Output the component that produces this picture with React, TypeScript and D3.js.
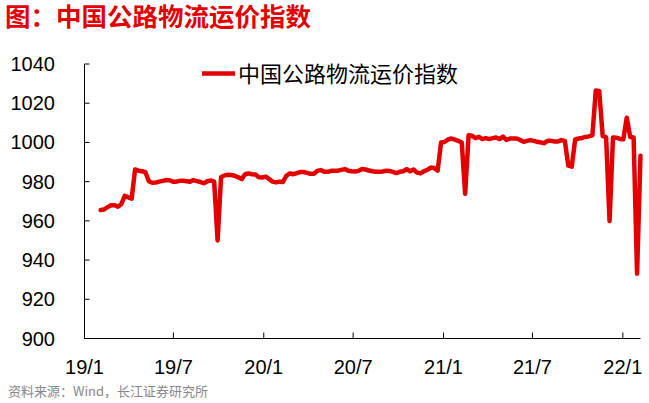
import React from "react";
import * as d3 from "d3";

const W = 649;
const H = 403;

const title = "图：中国公路物流运价指数";
const seriesName = "中国公路物流运价指数";
const source = "资料来源：Wind，长江证券研究所";

const startDate = "2019-02-03"; // first weekly observation
const values: number[] = [
  965.5, 965.8, 967, 968, 968, 967.2, 968.5, 972.8, 972, 971.3,
  986.2, 985.6, 985.3, 984.8, 980.2, 979.4, 979.5, 980, 980.4, 980.8,
  980.7, 980, 980, 980.4, 980.4, 980.2, 980, 980.8, 980.3, 979.8,
  979.2, 980.2, 980.6, 980, 950, 982.2, 983.2, 983.5, 983.4, 983,
  982.2, 981.3, 983.8, 984.2, 983.8, 983.6, 982.2, 982.1, 982.6, 981.3,
  980, 979.6, 980, 979.8, 983, 984.2, 983.8, 984.3, 984.9, 984.9,
  984.5, 984, 984, 985.5, 985.9, 985, 985, 985.5, 985.6, 985.6,
  986, 986.4, 985.6, 985.3, 985.2, 985.5, 986.4, 986.2, 985.7, 985.3,
  985, 985, 985.2, 985.6, 985.4, 985, 984.4, 985, 985.3, 986.4,
  985.3, 986.2, 984.6, 984.2, 985.3, 986, 987.2, 987, 985.6, 1000,
  1000.2, 1001.5, 1002, 1001.4, 1000.8, 1000, 973.8, 1003.7, 1003.4, 1002.2,
  1002.9, 1001.7, 1002.2, 1001.7, 1002.2, 1002.5, 1001.7, 1003, 1001.3, 1002,
  1002, 1002, 1001.2, 1000.3, 1000.8, 1001.2, 1000.8, 1000.3, 1000, 999.6,
  1000.8, 1000.8, 1000.5, 1000.5, 1001.2, 1000.8, 988.2, 987.6, 1001.5, 1002,
  1002.3, 1002.8, 1003.1, 1003.6, 1026.5, 1026.2, 1003.3, 1002.6, 959.8, 1002.5,
  1002.4, 1001.8, 1001.6, 1012.6, 1002.8, 1002.5, 933, 993.2,
];

const yTicks = [900, 920, 940, 960, 980, 1000, 1020, 1040];
const xTickDates = ["2019-01-01", "2019-07-01", "2020-01-01", "2020-07-01", "2021-01-01", "2021-07-01", "2022-01-01"];
const xTickLabels = ["19/1", "19/7", "20/1", "20/7", "21/1", "21/7", "22/1"];

const RED = "#e30000";
const NUM_FONT = "'Liberation Sans', Arial, sans-serif";
const CJK_FONT = "'Noto Sans CJK SC', 'Noto Sans', sans-serif";

export default function App() {
  const left = 84.5;
  const right = 640.5;
  const top = 64;
  const bottom = 338.5;

  const x = d3
    .scaleUtc()
    .domain([new Date("2019-01-01T00:00:00Z"), new Date("2022-02-06T00:00:00Z")])
    .range([left, right]);
  const y = d3.scaleLinear().domain([900, 1040]).range([bottom, top]);

  const t0 = new Date(startDate + "T00:00:00Z");
  const data = values.map((v, i) => ({ date: d3.utcDay.offset(t0, i * 7), value: v }));

  const line = d3
    .line<{ date: Date; value: number }>()
    .x((d) => x(d.date))
    .y((d) => y(d.value));

  return (
    <svg width={W} height={H} style={{ display: "block", position: "absolute", left: 0, top: 0 }}>
      <rect x={0} y={0} width={W} height={H} fill="#fff" />
      <text x={5} y={25.5} fill={RED} fontFamily={CJK_FONT} fontWeight={700} fontSize={25.5}>
        {title}
      </text>

      {/* y axis */}
      <line x1={left} x2={left} y1={top} y2={bottom} stroke="#000" strokeWidth={1} />
      {yTicks.map((t) => (
        <g key={t}>
          <line x1={left} x2={left + 5} y1={y(t)} y2={y(t)} stroke="#000" strokeWidth={1} />
          <text
            x={55}
            y={y(t)}
            textAnchor="end"
            dominantBaseline="central"
            fontFamily={NUM_FONT}
            fontSize={20}
            fill="#000"
          >
            {t}
          </text>
        </g>
      ))}

      {/* x axis */}
      <line x1={left} x2={right} y1={bottom} y2={bottom} stroke="#000" strokeWidth={1} />
      {xTickDates.map((d, i) => {
        const xx = x(new Date(d + "T00:00:00Z"));
        return (
          <g key={d}>
            <line x1={xx} x2={xx} y1={bottom} y2={bottom - 6} stroke="#000" strokeWidth={1} />
            <text x={xx} y={373.5} textAnchor="middle" fontFamily={NUM_FONT} fontSize={20} fill="#000">
              {xTickLabels[i]}
            </text>
          </g>
        );
      })}

      {/* series */}
      <path
        d={line(data) || ""}
        fill="none"
        stroke={RED}
        strokeWidth={4.5}
        strokeLinejoin="round"
        strokeLinecap="round"
      />

      {/* legend */}
      <line x1={202} x2={235} y1={73.5} y2={73.5} stroke={RED} strokeWidth={4.5} />
      <text x={238} y={82} fontFamily={CJK_FONT} fontSize={22} fill="#000">
        {seriesName}
      </text>

      <text x={8} y={396} fontFamily={CJK_FONT} fontSize={13} fill="#888">
        {source}
      </text>
    </svg>
  );
}
